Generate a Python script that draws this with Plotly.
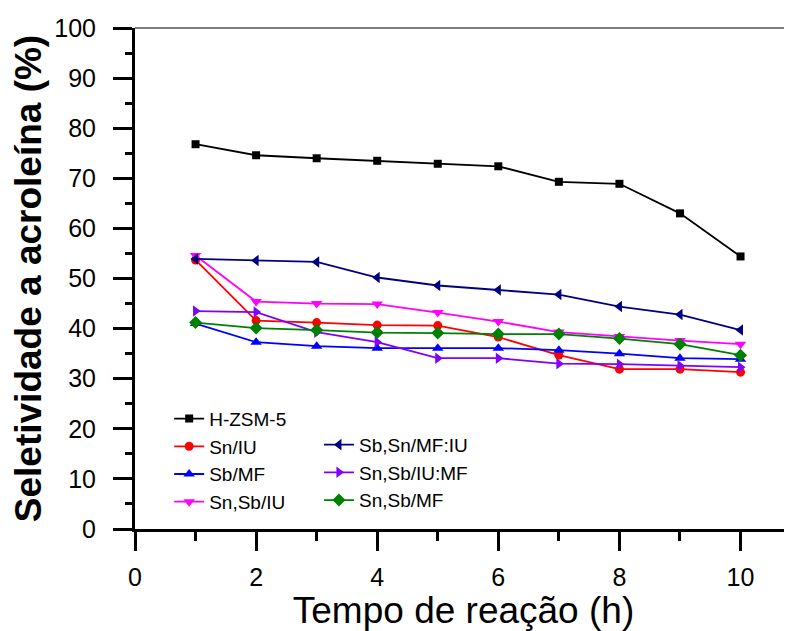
import plotly.graph_objects as go

hours = [1, 2, 3, 4, 5, 6, 7, 8, 9, 10]

h_zsm5 = [76.8, 74.6, 74.0, 73.5, 72.9, 72.4, 69.3, 68.9, 63.0, 54.4]
sn_iu = [53.7, 41.6, 41.2, 40.7, 40.6, 38.3, 34.7, 31.9, 31.9, 31.3]
sb_mf = [41.0, 37.3, 36.5, 36.1, 36.1, 36.1, 35.7, 35.0, 34.1, 33.9]
sn_sb_iu = [54.6, 45.4, 45.0, 44.9, 43.2, 41.4, 39.3, 38.4, 37.6, 36.9]
sb_sn_mf_iu = [53.9, 53.6, 53.3, 50.2, 48.6, 47.7, 46.8, 44.4, 42.8, 39.7]
sn_sb_iu_mf = [43.5, 43.3, 39.3, 37.3, 34.1, 34.1, 33.0, 32.9, 32.6, 32.3]
sn_sb_mf = [41.2, 40.1, 39.7, 39.2, 39.1, 38.9, 38.9, 38.0, 36.9, 34.7]

# name, values, colour, symbol, marker size, legend
SERIES = [
    ("H-ZSM-5", h_zsm5, "#000000", "square", 8, "legend"),
    ("Sn/IU", sn_iu, "#ff0000", "circle", 9, "legend"),
    ("Sb/MF", sb_mf, "#0000ff", "triangle-up", 10, "legend"),
    ("Sn,Sb/IU", sn_sb_iu, "#ff00ff", "triangle-down", 10, "legend"),
    ("Sb,Sn/MF:IU", sb_sn_mf_iu, "#000080", "triangle-left", 10, "legend2"),
    ("Sn,Sb/IU:MF", sn_sb_iu_mf, "#8000ff", "triangle-right", 10, "legend2"),
    ("Sn,Sb/MF", sn_sb_mf, "#008000", "diamond", 10, "legend2"),
]

FONT = "Arial, Liberation Sans, sans-serif"

fig = go.Figure()
for name, vals, color, symbol, size, leg in SERIES:
    fig.add_trace(go.Scatter(
        x=hours, y=vals, mode="lines+markers", name=name,
        line=dict(color=color, width=1.8),
        marker=dict(symbol=symbol, size=size, color=color),
        legend=leg,
    ))

axis_common = dict(
    showgrid=False, zeroline=False,
    showline=True, linecolor="black", linewidth=3,
    ticks="outside", ticklen=19, tickwidth=3, tickcolor="black",
    tickfont=dict(family=FONT, size=25, color="black"),
)

fig.update_xaxes(
    range=[0, 10.85], tick0=0, dtick=2,
    minor=dict(ticks="outside", ticklen=9, tickwidth=3, tickcolor="black", dtick=1),
    ticklabelstandoff=5,
    title=dict(text="Tempo de reação (h)", font=dict(family=FONT, size=37, color="black"), standoff=8),
    **axis_common,
)
fig.update_yaxes(
    range=[0, 100], tick0=0, dtick=10,
    minor=dict(ticks="outside", ticklen=7, tickwidth=3, tickcolor="black", dtick=5),
    ticklabelstandoff=12,
    title=dict(text="<b>Seletividade a acroleína (%)</b>", font=dict(family=FONT, size=37, color="black"), standoff=6),
    **axis_common,
)

# thin grey frame line along the top of the plot area
fig.add_shape(type="line", xref="paper", yref="paper", x0=0, x1=1, y0=1, y1=1,
              line=dict(color="#555555", width=1.5))

legend_font = dict(family=FONT, size=19, color="black")
fig.update_layout(
    # page body has an 8px margin, so the figure is sized to the rest of the window
    width=784, height=623,
    margin=dict(l=127, r=0, t=20, b=102, autoexpand=False),
    paper_bgcolor="white", plot_bgcolor="white",
    showlegend=True,
    legend=dict(x=0.052, y=0.258, xanchor="left", yanchor="top",
                font=legend_font, bgcolor="rgba(0,0,0,0)", tracegroupgap=0),
    legend2=dict(x=0.28, y=0.206, xanchor="left", yanchor="top",
                 font=legend_font, bgcolor="rgba(0,0,0,0)", tracegroupgap=0),
)

fig.write_html("out.html")
